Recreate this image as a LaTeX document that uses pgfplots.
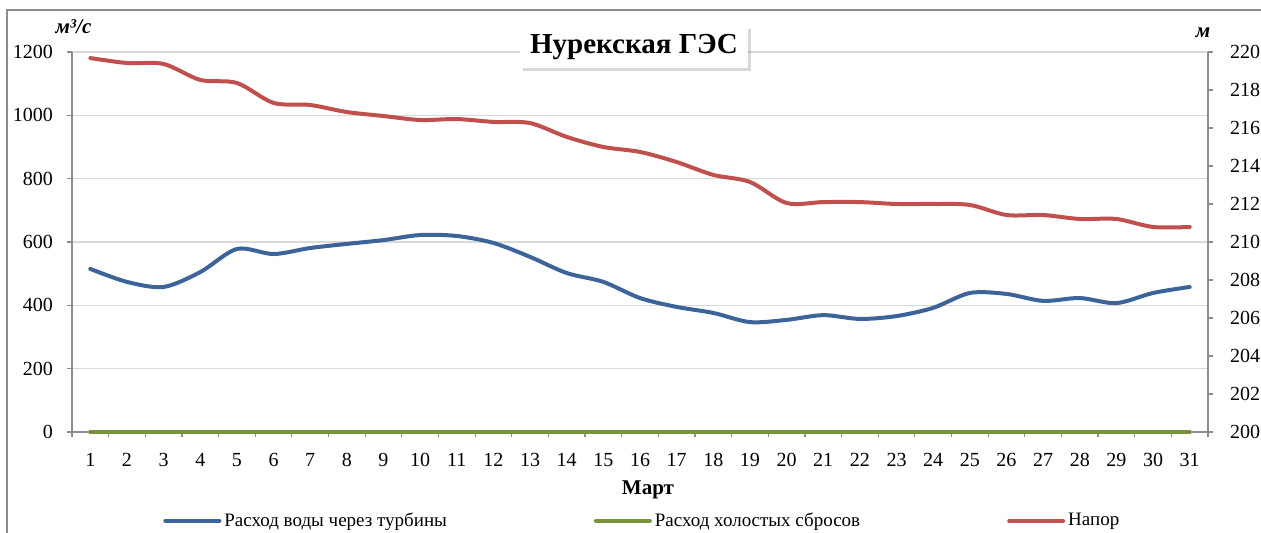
\documentclass[border=0pt]{standalone}
\usepackage{fontspec}
\setmainfont{Liberation Serif}
\usepackage{pgfplots}
\pgfplotsset{compat=1.18}
\usetikzlibrary{shadows}
\definecolor{turb}{HTML}{3C6499}
\definecolor{sbros}{HTML}{77933C}
\definecolor{napor}{HTML}{C0504D}
\definecolor{axgray}{HTML}{8C8C8C}
\definecolor{gridgray}{HTML}{D9D9D9}

% расход через турбины, м3/с
\pgfplotstableread{
day q
1 515
2 474
3 458
4 505
5 578
6 562
7 581
8 594
9 606
10 622
11 619
12 597
13 553
14 502
15 474
16 423
17 395
18 376
19 347
20 354
21 369
22 357
23 366
24 392
25 439
26 436
27 414
28 423
29 407
30 439
31 458
}\turbtab

% напор, м
\pgfplotstableread{
day h
1 219.68
2 219.42
3 219.37
4 218.53
5 218.37
6 217.32
7 217.21
8 216.84
9 216.63
10 216.42
11 216.47
12 216.32
13 216.26
14 215.53
15 215.00
16 214.74
17 214.21
18 213.53
19 213.16
20 212.05
21 212.10
22 212.10
23 212.00
24 212.00
25 211.95
26 211.42
27 211.42
28 211.21
29 211.21
30 210.79
31 210.79
}\naportab

\pgfplotsset{
  common/.style={
    scale only axis, width=568pt, height=190pt,
    xmin=0.5, xmax=31.5,
    tick align=outside, major tick length=2.5pt, minor tick length=2.5pt,
    tick style={axgray, line width=0.6pt},
    axis line style={-, axgray, line width=0.8pt},
    /pgf/number format/assume math mode=true,
    /pgf/number format/1000 sep={},
    ticklabel style={font=\rmfamily\fontsize{10}{12}\selectfont},
  },
}

\begin{document}
\begin{tikzpicture}[font=\rmfamily\fontsize{9.5}{11}\selectfont]
\useasboundingbox (-36pt,-50.5pt) rectangle (594.5pt,216pt);
\draw[axgray, line width=0.6pt] (-32.5pt,-50.5pt) -- (-32.5pt,211pt) -- (594.5pt,211pt);

\begin{axis}[
  common, clip=false,
  ymin=0, ymax=1200, ytick={0,200,...,1200},
  axis x line*=bottom, axis y line*=left,
  xtick={1,...,31}, minor xtick={0.5,1.5,...,31.5},
  x tick style={draw=none},
  minor x tick style={draw=axgray, line width=0.6pt},
  xticklabel style={yshift=-4.5pt},
  yticklabel style={xshift=-3.5pt},
  ymajorgrids, grid style={gridgray, line width=0.6pt},
  legend columns=3,
  legend style={at={(0.0801,-0.234)}, anchor=west, draw=none, fill=none,
    inner sep=0pt, font=\rmfamily\fontsize{9.5}{11}\selectfont,
    nodes={inner xsep=1.5pt},
    /tikz/every even column/.append style={column sep=72pt}},
  legend cell align=left,
  legend image code/.code={\draw[#1, line width=2pt, line cap=round] (0pt,0pt) -- (27pt,0pt);},
]
\addplot[turb, line width=2pt, smooth, line cap=round, line join=round] table[x=day, y=q] {\turbtab};
\addlegendentry{Расход воды через турбины}
\addplot[sbros, line width=2pt, line cap=round] coordinates {
(1,0)(2,0)(3,0)(4,0)(5,0)(6,0)(7,0)(8,0)(9,0)(10,0)(11,0)(12,0)(13,0)(14,0)(15,0)(16,0)
(17,0)(18,0)(19,0)(20,0)(21,0)(22,0)(23,0)(24,0)(25,0)(26,0)(27,0)(28,0)(29,0)(30,0)(31,0)
};
\addlegendentry{Расход холостых сбросов}
\addlegendimage{napor}
\addlegendentry{Напор}
\end{axis}

\begin{axis}[
  common,
  ymin=200, ymax=220, ytick={200,202,...,220},
  yticklabel style={xshift=5pt},
  axis x line=none, axis y line*=right,
]
\addplot[napor, line width=2pt, smooth, line cap=round, line join=round] table[x=day, y=h] {\naportab};
\end{axis}

\node[font=\rmfamily\bfseries\itshape\fontsize{10.5}{12}\selectfont] at (0.75pt,202.5pt) {м³/с};
\node[font=\rmfamily\bfseries\itshape\fontsize{10.5}{12}\selectfont] at (565.5pt,199.5pt) {м};
\node[font=\rmfamily\bfseries\fontsize{10.5}{12}\selectfont] at (288pt,-29pt) {Март};
\node[fill=white, inner xsep=4pt, inner ysep=3pt, minimum width=114pt, minimum height=21pt,
  drop shadow={shadow xshift=1.5pt, shadow yshift=-1.5pt, opacity=0.3, fill=black!50},
  font=\rmfamily\bfseries\fontsize{14.5}{16}\selectfont] at (281pt,192.5pt) {Нурекская ГЭС};
\end{tikzpicture}
\end{document}
